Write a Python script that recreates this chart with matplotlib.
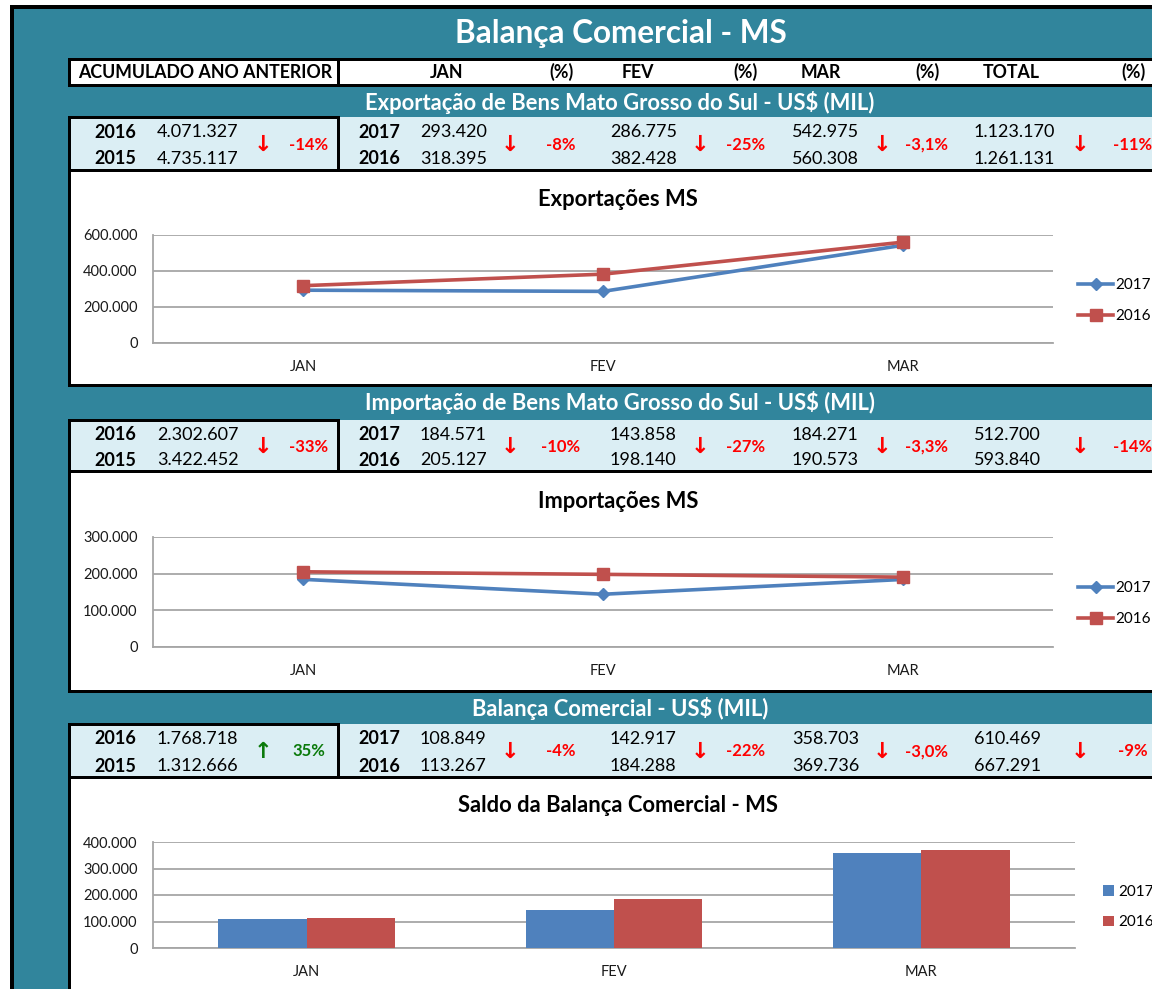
import matplotlib
matplotlib.use("Agg")
import matplotlib.pyplot as plt
from matplotlib.patches import Rectangle
from matplotlib.ticker import FuncFormatter
import numpy as np

plt.rcParams['font.family'] = ['Lato', 'DejaVu Sans']

# ---------------- data ----------------
months = ['JAN', 'FEV', 'MAR']
series_names = ['2017', '2016']

exp_2017 = [293420, 286775, 542975]
exp_2016 = [318395, 382428, 560308]
imp_2017 = [184571, 143858, 184271]
imp_2016 = [205127, 198140, 190573]
bal_2017 = [108849, 142917, 358703]
bal_2016 = [113267, 184288, 369736]

header_labels = ['JAN', '(%)', 'FEV', '(%)', 'MAR', '(%)', 'TOTAL', '(%)']

section_titles = ['Exportação de Bens Mato Grosso do Sul - US$ (MIL)',
                  'Importação de Bens Mato Grosso do Sul - US$ (MIL)',
                  'Balança Comercial - US$ (MIL)']
chart_titles = ['Exportações MS', 'Importações MS', 'Saldo da Balança Comercial - MS']

# accumulated previous year: (value a, value b, pct)
acc_years = ['2016', '2015']
acc_exp = ['4.071.327', '4.735.117', '-14%']
acc_imp = ['2.302.607', '3.422.452', '-33%']
acc_bal = ['1.768.718', '1.312.666', '35%']

# monthly table: current values, previous values, pct
tab_years = ['2017', '2016']
exp_cur = ['293.420', '286.775', '542.975', '1.123.170']
exp_prev = ['318.395', '382.428', '560.308', '1.261.131']
exp_pct = ['-8%', '-25%', '-3,1%', '-11%']
imp_cur = ['184.571', '143.858', '184.271', '512.700']
imp_prev = ['205.127', '198.140', '190.573', '593.840']
imp_pct = ['-10%', '-27%', '-3,3%', '-14%']
bal_cur = ['108.849', '142.917', '358.703', '610.469']
bal_prev = ['113.267', '184.288', '369.736', '667.291']
bal_pct = ['-4%', '-22%', '-3,0%', '-9%']

# ---------------- style ----------------
W, H = 1152, 989
TEAL = '#31859C'
LIGHT = '#DBEEF4'
BLUE = '#4F81BD'
RED = '#C0504D'
ARROW_RED = '#FF0000'
GREEN = '#0B7A0B'
GRID = '#A6A6A6'
TXT = '#1a1a1a'

fig = plt.figure(figsize=(W / 100, H / 100), dpi=100)
fig.patch.set_facecolor('white')
bg = fig.add_axes([0, 0, 1, 1])
bg.set_xlim(0, W)
bg.set_ylim(H, 0)
bg.axis('off')

PT = 72 / 100  # px -> pt


def rect(x0, y0, x1, y1, fc='none', ec='none', lw=0, z=1):
    bg.add_patch(Rectangle((x0, y0), x1 - x0, y1 - y0, facecolor=fc,
                           edgecolor=ec, linewidth=lw * PT, zorder=z))


def txt(x, y, s, size, color=TXT, weight='normal', ha='center', family=None, z=5):
    kw = {}
    if family:
        kw['family'] = family
    bg.text(x, y, s, fontsize=size, color=color, fontweight=weight, ha=ha,
            va='center', zorder=z, **kw)


# outer frame
rect(10, 5, W + 10, H + 10, fc='black')
rect(14, 9, W + 10, H + 10, fc=TEAL)

# title
txt(621, 34, 'Balança Comercial - MS', 22.7, color='white', weight='bold')

# header row
rect(338, 59, W + 5, 85, fc='white', ec='black', lw=3, z=2)
rect(69, 59, 338, 85, fc='white', ec='black', lw=3, z=3)
txt(205, 72, 'ACUMULADO ANO ANTERIOR', 12.8, color='black', weight='bold')
header_x = [447, 561, 638, 746, 821, 927, 1011, 1134]
for hx, lab in zip(header_x, header_labels):
    txt(hx, 72, lab, 12.8, color='black', weight='bold')

section_tops = [117, 420, 724]
section_bottoms = [170, 471, 777]
chart_bottoms = [385, 691, H + 10]
section_title_y = [102, 403, 708]

accs = [acc_exp, acc_imp, acc_bal]
curs = [exp_cur, imp_cur, bal_cur]
prevs = [exp_prev, imp_prev, bal_prev]
pcts = [exp_pct, imp_pct, bal_pct]

num_x = [420, 610, 792, 974]
arrow_x = [510, 700, 882, 1080]
pct_x = [561, 746, 927, 1133]

for i in range(3):
    t, b = section_tops[i], section_bottoms[i]
    txt(620, section_title_y[i], section_titles[i], 15.8, color='white', weight='bold')
    # data band
    rect(338, t, W + 5, b, fc=LIGHT, z=2)
    rect(69, t, 338, b, fc=LIGHT, ec='black', lw=3, z=3)
    y1 = t + 15
    y2 = b - 11
    ym = (t + b) / 2 + 1
    # accumulated
    txt(136, y1, acc_years[0], 13, color='black', weight='bold', ha='right')
    txt(136, y2, acc_years[1], 13, color='black', weight='bold', ha='right')
    txt(157, y1, accs[i][0], 13, color='black', ha='left')
    txt(157, y2, accs[i][1], 13, color='black', ha='left')
    up = not accs[i][2].startswith('-')
    c = GREEN if up else ARROW_RED
    txt(263, ym, '↑' if up else '↓', 16, color=c, weight='bold', family='DejaVu Sans')
    txt(309, ym, accs[i][2], 12, color=c, weight='bold')
    # monthly
    txt(400, y1, tab_years[0], 13, color='black', weight='bold', ha='right')
    txt(400, y2, tab_years[1], 13, color='black', weight='bold', ha='right')
    for j in range(4):
        txt(num_x[j], y1, curs[i][j], 13, color='black', ha='left')
        txt(num_x[j], y2, prevs[i][j], 13, color='black', ha='left')
        txt(arrow_x[j], ym, '↓', 16, color=ARROW_RED, weight='bold', family='DejaVu Sans')
        txt(pct_x[j], ym, pcts[i][j], 12, color=ARROW_RED, weight='bold')
    # chart box
    rect(69, b, W + 5, chart_bottoms[i], fc='white', ec='black', lw=3, z=2)


def thousands(v, pos=None):
    return f"{int(round(v)):,}".replace(',', '.')


def make_ax(x0, y0, x1, y1):
    ax = fig.add_axes([x0 / W, 1 - y1 / H, (x1 - x0) / W, (y1 - y0) / H])
    ax.set_facecolor('none')
    for s in ['top', 'right']:
        ax.spines[s].set_visible(False)
    for s in ['left', 'bottom']:
        ax.spines[s].set_color(GRID)
        ax.spines[s].set_linewidth(1.3)
    ax.yaxis.grid(True, color=GRID, linewidth=1.3)
    ax.set_axisbelow(True)
    ax.tick_params(axis='both', length=0, labelsize=10.5, colors=TXT)
    ax.tick_params(axis='y', pad=11)
    ax.tick_params(axis='x', pad=12)
    ax.yaxis.set_major_formatter(FuncFormatter(thousands))
    return ax


x = np.arange(len(months))

# line charts
line_specs = [
    (exp_2017, exp_2016, 235, 343, 600000, 200000, 199),
    (imp_2017, imp_2016, 537, 647, 300000, 100000, 501),
]
for k, (s17, s16, top, bot, ymax, step, ty) in enumerate(line_specs):
    ax = make_ax(153, top, 1053, bot)
    l1, = ax.plot(x, s17, color=BLUE, lw=2.6, marker='D', ms=6.5, label=series_names[0], zorder=3)
    l2, = ax.plot(x, s16, color=RED, lw=2.6, marker='s', ms=8, label=series_names[1], zorder=4)
    ax.set_xlim(-0.5, len(months) - 0.5)
    ax.set_ylim(0, ymax)
    ax.set_yticks(np.arange(0, ymax + 1, step))
    ax.set_xticks(x)
    ax.set_xticklabels(months)
    txt(618, ty, chart_titles[k], 15.8, color='black', weight='bold')
    mid = (top + bot) / 2 + 11.5
    ax.legend(handles=[l1, l2], loc='center left',
              bbox_to_anchor=(1072 / W, 1 - mid / H), bbox_transform=fig.transFigure,
              frameon=False, fontsize=11, handlelength=2.3, handletextpad=0.15,
              labelspacing=1.1, borderaxespad=0)

# bar chart
ax = make_ax(153, 842, 1075, 948)
bw = 0.287
b1 = ax.bar(x - bw / 2, bal_2017, width=bw, color=BLUE, label=series_names[0], zorder=3)
b2 = ax.bar(x + bw / 2, bal_2016, width=bw, color=RED, label=series_names[1], zorder=3)
ax.set_xlim(-0.5, len(months) - 0.5)
ax.set_ylim(0, 400000)
ax.set_yticks(np.arange(0, 400001, 100000))
ax.set_xticks(x)
ax.set_xticklabels(months)
txt(618, 806, chart_titles[2], 15.8, color='black', weight='bold')
ax.legend(handles=[b1, b2], loc='center left',
          bbox_to_anchor=(1097 / W, 1 - 907 / H), bbox_transform=fig.transFigure,
          frameon=False, fontsize=11, handlelength=0.7, handleheight=0.7,
          handletextpad=0.3, labelspacing=1.1, borderaxespad=0)

fig.savefig('out.png', dpi=100)
